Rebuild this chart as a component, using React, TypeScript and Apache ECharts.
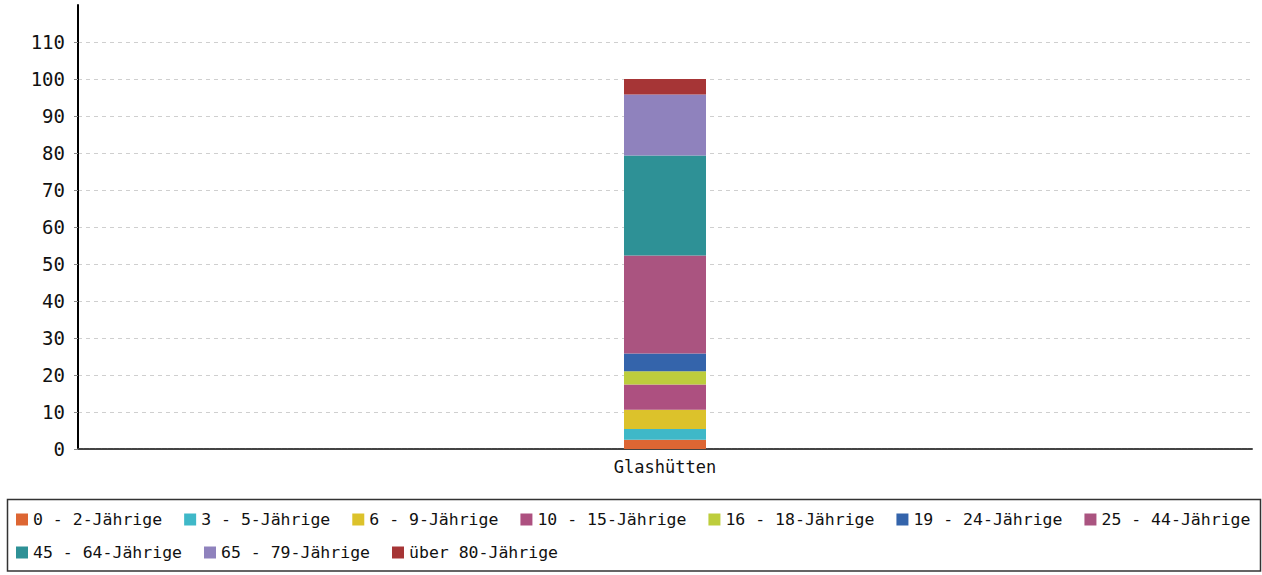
import React, { useEffect, useRef } from "react";
import * as echarts from "echarts";

const categories = ["Glashütten"];
const seriesNames = [
  "0 - 2-Jährige",
  "3 - 5-Jährige",
  "6 - 9-Jährige",
  "10 - 15-Jährige",
  "16 - 18-Jährige",
  "19 - 24-Jährige",
  "25 - 44-Jährige",
  "45 - 64-Jährige",
  "65 - 79-Jährige",
  "über 80-Jährige",
];
// one value per category (only Glashütten)
const seriesValues = [2.5, 2.9, 5.2, 6.8, 3.6, 4.8, 26.5, 27.0, 16.5, 4.2];
const seriesColors = [
  "#dd6633",
  "#3fb8c8",
  "#dcc22b",
  "#ad5080",
  "#bdcd3c",
  "#3464ab",
  "#aa5480",
  "#2e9196",
  "#8f82bd",
  "#a63536",
];
const legendRow1 = seriesNames.slice(0, 7);
const legendRow2 = seriesNames.slice(7);
const yMin = 0;
const yMax = 120;
const yInterval = 10;

const FONT = "DejaVu Sans Mono";

export default function App() {
  const ref = useRef<HTMLDivElement>(null);
  useEffect(() => {
    if (!ref.current) return;
    const chart = echarts.init(ref.current, undefined, { renderer: "svg" });
    const legendCommon = {
      orient: "horizontal" as const,
      left: 16,
      itemWidth: 12,
      itemHeight: 12,
      itemGap: 22,
      padding: 0,
      icon: "rect",
      textStyle: {
        fontFamily: FONT,
        fontSize: 16.5,
        color: "#111",
      },
    };
    chart.setOption({
      animation: false,
      backgroundColor: "#ffffff",
      grid: { left: 78, right: 10, top: 5, bottom: 126 },
      xAxis: {
        type: "category",
        data: categories,
        axisLine: { show: true, lineStyle: { color: "#444", width: 2, type: [5, 1] } },
        axisTick: { show: false },
        axisLabel: { fontFamily: FONT, fontSize: 17, color: "#111", margin: 9 },
        splitLine: { show: false },
      },
      yAxis: {
        type: "value",
        min: yMin,
        max: yMax,
        interval: yInterval,
        axisLine: { show: true, lineStyle: { color: "#000", width: 2 } },
        axisTick: { show: true, length: 4, lineStyle: { color: "#888" } },
        axisLabel: {
          fontFamily: FONT,
          fontSize: 19,
          color: "#111",
          margin: 13,
          showMaxLabel: false,
        },
        splitLine: {
          show: true,
          showMinLine: false,
          showMaxLine: false,
          lineStyle: { color: "#cfcfcf", type: [4, 4], width: 1 },
        },
      },
      legend: [
        { ...legendCommon, top: 511, data: legendRow1 },
        { ...legendCommon, top: 544, data: legendRow2 },
      ],
      graphic: [
        {
          type: "rect",
          shape: { x: 7.5, y: 499.5, width: 1253, height: 71.5 },
          style: { fill: "transparent", stroke: "#333", lineWidth: 1.5 },
          silent: true,
        },
      ],
      series: seriesNames.map((name, i) => ({
        name,
        type: "bar",
        stack: "total",
        barWidth: 82,
        data: [seriesValues[i]],
        itemStyle: { color: seriesColors[i] },
      })),
    });
    return () => chart.dispose();
  }, []);
  return (
    <div
      ref={ref}
      style={{ position: "fixed", left: 0, top: 0, width: 1262, height: 575 }}
    />
  );
}
